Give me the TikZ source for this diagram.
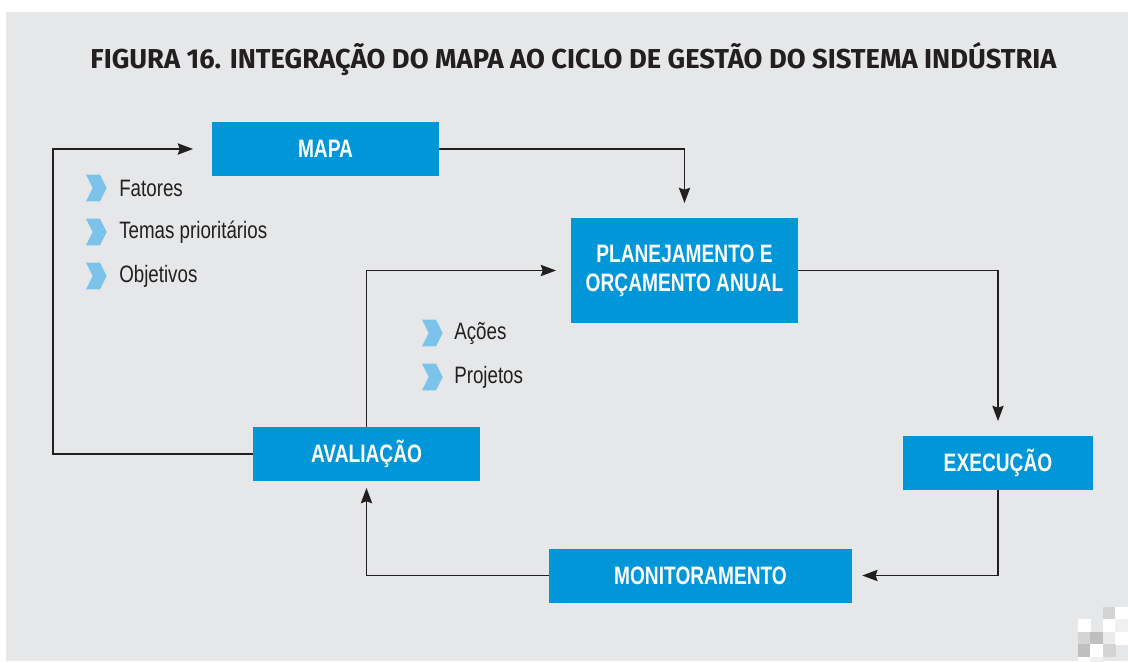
\documentclass[tikz,border=0pt]{standalone}
\usepackage{fontspec}
\usetikzlibrary{arrows.meta}
\newfontfamily\titlefont{Fira Sans}
\newfontfamily\boxfont[FakeStretch=0.76]{Liberation Sans}
\newfontfamily\listfont[FakeStretch=0.79]{Liberation Sans}
\definecolor{bgray}{HTML}{E6E7E8}
\definecolor{boxblue}{HTML}{0096D8}
\definecolor{chevblue}{HTML}{7CC3EB}
\definecolor{ink}{HTML}{231F20}
\begin{document}
\begin{tikzpicture}[x=0.75pt,y=-0.75pt,
  stage/.style={fill=boxblue,text=white,font=\boxfont\bfseries\fontsize{18.9}{21.75}\selectfont,
    align=center,inner sep=0pt,minimum height=40.5pt},
  item/.style={anchor=west,text=ink,inner sep=0pt,font=\listfont\fontsize{17.8}{20}\selectfont},
  flow/.style={draw=ink,line width=1pt,-{Stealth[length=11.5pt,width=8.5pt,inset=1.5pt]}},
  chev/.pic={\fill[chevblue] (0,-13.3) -- (14,-13.3) -- (20.7,0) -- (14,13.3) -- (0,13.3) -- (6.7,0) -- cycle;}]
\useasboundingbox (0,0) rectangle (1128,661);
\fill[bgray] (6,12) rectangle (1128,661);
\foreach \cx/\cy/\cc in {1103/607/black!17,1115/607/white,1078/619/white,1103/619/white,1115/619/black!6,
  1078/632/black!17,1090/632/black!25,1103/632/black!8,1115/632/white,
  1078/644/black!25,1090/644/white,1103/644/black!17,1078/657/white,1090/657/black!6}
  \fill[\cc] (\cx,\cy) rectangle ++(12.5,12.5);
\node[anchor=base,text=ink,font=\titlefont\bfseries\fontsize{20.5}{24}\selectfont] (title) at (573.5,68)
  {FIGURA 16. INTEGRAÇÃO DO MAPA AO CICLO DE GESTÃO DO SISTEMA INDÚSTRIA};
\node[stage,minimum width=170.25pt] (mapa) at (325.5,149) {MAPA};
\node[stage,minimum width=170.25pt,minimum height=78.75pt] (plano) at (684.5,270.5) {PLANEJAMENTO E\\ORÇAMENTO ANUAL};
\node[stage,minimum width=142.5pt] (execucao) at (998,463) {EXECUÇÃO};
\node[stage,minimum width=227.25pt] (monit) at (700.5,575.5) {MONITORAMENTO};
\node[stage,minimum width=170.25pt] (aval) at (366.5,454) {AVALIAÇÃO};
\pic at (86,188) {chev};
\pic at (86,232) {chev};
\pic at (86,276) {chev};
\node[item] (fatores) at (119,188) {Fatores};
\node[item] (temas) at (119,232) {Temas prioritários};
\node[item] (objetivos) at (119,276) {Objetivos};
\pic at (422,333) {chev};
\pic at (422,377) {chev};
\node[item] (acoes) at (454,333) {Ações};
\node[item] (projetos) at (454,377) {Projetos};
\coordinate (lado) at (53,0);
\draw[flow,shorten >=14pt] (aval.west) -| (lado |- mapa.west) -- (mapa.west);
\draw[flow,shorten >=11pt] (mapa.east) -| (plano.north);
\draw[flow,shorten >=11pt] (plano.east) -| (execucao.north);
\draw[flow,shorten >=7.5pt] (execucao.south) |- (monit.east);
\draw[flow,shorten >=5pt] (monit.west) -| (aval.south);
\draw[flow,shorten >=11pt] (aval.north) |- (plano.west);
\end{tikzpicture}
\end{document}
